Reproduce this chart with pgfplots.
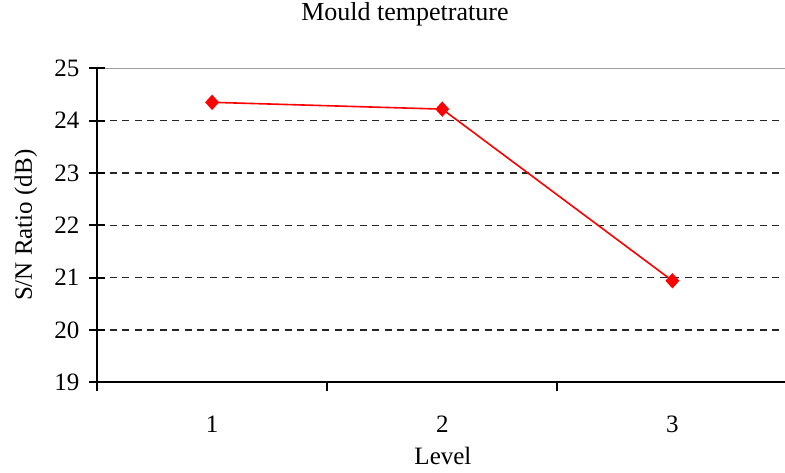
\documentclass[border=0pt]{standalone}
\usepackage{fontspec}
\setmainfont{Liberation Serif}
\usepackage{pgfplots}
\pgfplotsset{compat=1.18}
\begin{document}
\begin{tikzpicture}[x=1pt,y=1pt]
\useasboundingbox (0,0) rectangle (785,472);
\begin{axis}[
  at={(97pt,89.7pt)}, anchor=south west,
  scale only axis, width=690.5pt, height=314pt,
  xmin=0.5, xmax=3.5, ymin=19, ymax=25,
  axis x line*=bottom, axis y line*=left,
  axis line style={black, line width=2.2pt},
  xtick={1,2,3}, xticklabels={1,2,3},
  every major x tick/.append style={draw=none},
  minor xtick={0.5,1.5,2.5,3.5},
  minor tick length=9pt,
  xtick align=outside,
  ytick={19,20,21,22,23,24},
  extra y ticks={25},
  extra y tick style={major grid style={solid, gray!75, line width=1.6pt}},
  ytick align=center,
  major tick length=16pt,
  tick style={black, line width=1.8pt},
  ymajorgrids,
  major grid style={black!85, line width=1.6pt, dash pattern=on 7pt off 5.5pt},
  /pgf/number format/assume math mode=true,
  tick label style={font=\fontsize{25}{29}\selectfont},
  yticklabel style={xshift=-6pt},
  xticklabel style={yshift=-14pt},
  title={Mould tempetrature},
  title style={at={(axis description cs:0.446,1.154)}, anchor=center, font=\fontsize{26}{30}\selectfont},
  xlabel={Level},
  xlabel style={at={(axis description cs:0.501,-0.233)}, anchor=center, font=\fontsize{25}{29}\selectfont},
  ylabel={S/N Ratio (dB)},
  ylabel style={at={(axis description cs:-0.1030,0.5)}, anchor=center, rotate=0, font=\fontsize{25}{29}\selectfont},
  clip=false,
]
\addplot[red, line width=1.6pt, mark=diamond*, mark size=6.5pt, mark options={xscale=1.2, fill=red, draw=red}]
  coordinates {(1,24.35) (2,24.22) (3,20.94)};
\end{axis}
\end{tikzpicture}
\end{document}
